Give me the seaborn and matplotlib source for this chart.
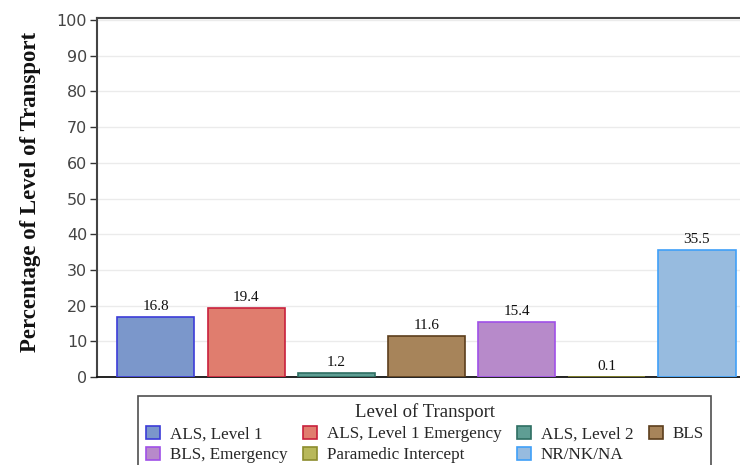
import matplotlib
matplotlib.use('Agg')
import matplotlib.pyplot as plt
from matplotlib.patches import Patch
import seaborn as sns

categories = ['ALS, Level 1', 'ALS, Level 1 Emergency', 'ALS, Level 2', 'BLS',
              'BLS, Emergency', 'Paramedic Intercept', 'NR/NK/NA']
values = [16.8, 19.4, 1.2, 11.6, 15.4, 0.1, 35.5]
fills = ['#7b97cb', '#e07d6e', '#5f9e94', '#a7845a', '#b78aca', '#b8b85a', '#97bbdf']
edges = ['#3c3cd8', '#c8203c', '#2e6e62', '#5c3e1c', '#a050e8', '#8c8c2e', '#40a0f8']
yticks = [0, 10, 20, 30, 40, 50, 60, 70, 80, 90, 100]

sns.set_theme(style='white')
serif = ['Liberation Serif', 'DejaVu Serif']
sans = ['DejaVu Sans']

fig = plt.figure(figsize=(7.4, 4.65), dpi=100)
ax = fig.add_axes([0.131, 0.189, 0.869, 0.772])

sns.barplot(x=categories, y=values, hue=categories, palette=fills, width=0.855,
            legend=False, saturation=1, ax=ax, zorder=3)
for p, ec in zip(ax.patches, edges):
    p.set_edgecolor(ec)
    p.set_linewidth(1.2)

for c in ax.containers:
    ax.bar_label(c, fmt='%.1f', padding=3, fontsize=11, family=serif, color='#111111')

ax.set_xlim(-0.654, 6.477)
ax.set_ylim(0, 100.5)
ax.set_yticks(yticks)
ax.set_xticks([])
ax.set_xlabel('')
ax.yaxis.grid(True, color='#ebebeb', linewidth=1, zorder=0)
ax.tick_params(axis='y', left=True, length=5, width=1, color='#333333',
               labelsize=11.5, labelcolor='#444444', pad=2)
for lbl in ax.get_yticklabels():
    lbl.set_family(sans)
for s in ['left', 'top']:
    ax.spines[s].set_color('#444444')
    ax.spines[s].set_linewidth(1.5)
ax.spines['bottom'].set_color('#111111')
ax.spines['bottom'].set_linewidth(1.3)
ax.spines['right'].set_visible(False)
ax.set_ylabel('Percentage of Level of Transport', family=serif, fontsize=16.5,
              fontweight='bold', color='#111111')
ax.yaxis.set_label_coords(-0.087, 0.515)

# legend order so that rows read left to right like the original
order = [0, 4, 1, 5, 2, 6, 3]
handles = [Patch(facecolor=fills[i], edgecolor=edges[i], linewidth=1.2, label=categories[i])
           for i in order]
leg = fig.legend(handles=handles, ncol=4, loc='upper left',
                 bbox_to_anchor=(0.1865, 0.149), borderaxespad=0, frameon=True, fancybox=False,
                 title='Level of Transport', prop={'family': serif, 'size': 12.3},
                 title_fontproperties={'family': serif, 'size': 13.5},
                 handlelength=0.85, handleheight=0.85, handletextpad=0.55,
                 columnspacing=0.9, labelspacing=0.25, borderpad=0.45)
leg.get_frame().set_edgecolor('#222222')
leg.get_frame().set_linewidth(1.2)

fig.savefig('out.png', dpi=100)
